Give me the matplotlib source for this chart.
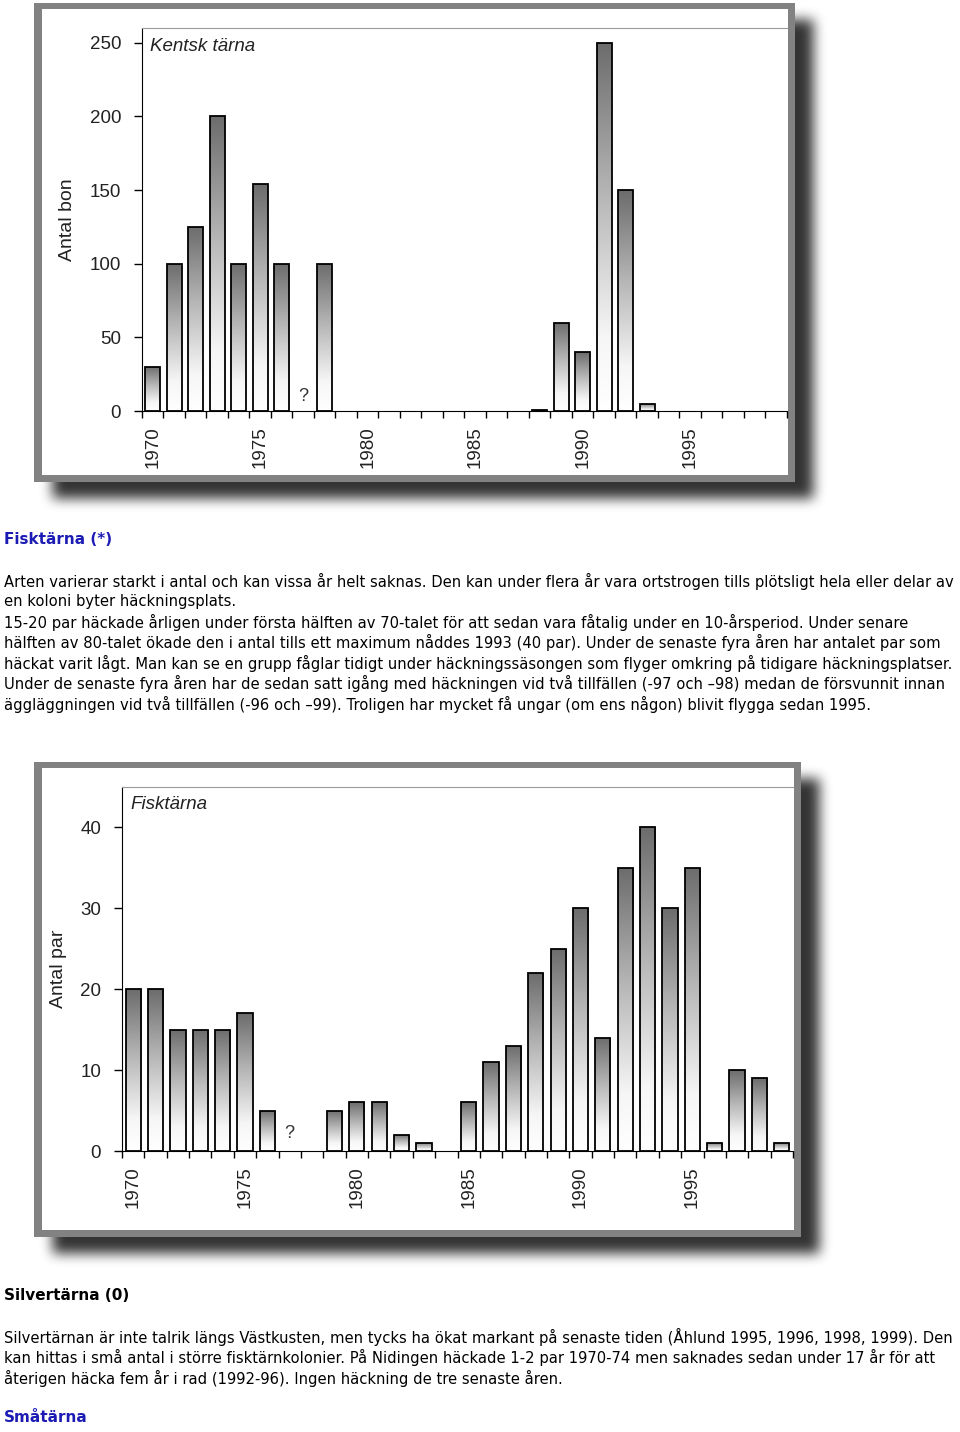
import matplotlib.pyplot as plt
import numpy as np
from matplotlib.colors import LinearSegmentedColormap
from matplotlib.patches import Rectangle
from matplotlib.ticker import FixedLocator

plt.rcParams['font.family'] = ['Liberation Sans', 'DejaVu Sans']

# data
years = list(range(1970, 2000))
kentsk_bon = [30, 100, 125, 200, 100, 154, 100, 0, 100, 0,
              0, 0, 0, 0, 0, 0, 0, 0, 1, 60,
              40, 250, 150, 5, 0, 0, 0, 0, 0, 0]
fisk_par = [20, 20, 15, 15, 15, 17, 5, 0, 0, 5,
            6, 6, 2, 1, 0, 6, 11, 13, 22, 25,
            30, 14, 35, 40, 30, 35, 1, 10, 9, 1]
unknown_year = 1977
year_labels = [1970, 1975, 1980, 1985, 1990, 1995]
kentsk_yticks = [0, 50, 100, 150, 200, 250]
fisk_yticks = [0, 10, 20, 30, 40]

fisk_heading = 'Fisktärna (*)'
fisk_text = [
    'Arten varierar starkt i antal och kan vissa år helt saknas. Den kan under flera år vara ortstrogen tills plötsligt hela eller delar av',
    'en koloni byter häckningsplats.',
    '15-20 par häckade årligen under första hälften av 70-talet för att sedan vara fåtalig under en 10-årsperiod. Under senare',
    'hälften av 80-talet ökade den i antal tills ett maximum nåddes 1993 (40 par). Under de senaste fyra åren har antalet par som',
    'häckat varit lågt. Man kan se en grupp fåglar tidigt under häckningssäsongen som flyger omkring på tidigare häckningsplatser.',
    'Under de senaste fyra åren har de sedan satt igång med häckningen vid två tillfällen (-97 och –98) medan de försvunnit innan',
    'äggläggningen vid två tillfällen (-96 och –99). Troligen har mycket få ungar (om ens någon) blivit flygga sedan 1995.',
]
silver_heading = 'Silvertärna (0)'
silver_text = [
    'Silvertärnan är inte talrik längs Västkusten, men tycks ha ökat markant på senaste tiden (Åhlund 1995, 1996, 1998, 1999). Den',
    'kan hittas i små antal i större fisktärnkolonier. På Nidingen häckade 1-2 par 1970-74 men saknades sedan under 17 år för att',
    'återigen häcka fem år i rad (1992-96). Ingen häckning de tre senaste åren.',
]
sma_heading = 'Småtärna'

W, H = 960, 1432
BLUE = '#1c1cb4'
BODY = ['DejaVu Sans']
bar_cmap = LinearSegmentedColormap.from_list(
    'bar', [(0, '#ffffff'), (0.2, '#f6f6f6'), (0.6, '#b4b4b4'), (1, '#6c6c6c')])


def blur(a, k, passes=3):
    kern = np.ones(k) / k
    for _ in range(passes):
        a = np.apply_along_axis(lambda r: np.convolve(r, kern, 'same'), 0, a)
        a = np.apply_along_axis(lambda r: np.convolve(r, kern, 'same'), 1, a)
    return a


def draw_frame(bg, x0, y0, x1, y1, shadow):
    sx, sy = 17, 15
    shadow[y0 + sy:y1 + sy, x0 + sx:x1 + sx] = 1
    bg.add_patch(Rectangle((x0, y0), x1 - x0, y1 - y0, facecolor='#828282',
                           edgecolor='none', zorder=3))
    bg.add_patch(Rectangle((x0 + 8, y0 + 6), x1 - x0 - 15, y1 - y0 - 13,
                           facecolor='white', edgecolor='none', zorder=4))


def draw_chart(ax, values, ymax, yticks, ylabel, title, qy, label_x):
    x = np.array(years)
    bars = ax.bar(x, values, width=0.68, facecolor='none', edgecolor='black',
                  linewidth=1.3, zorder=3)
    grad = np.linspace(1, 0, 256).reshape(-1, 1)
    for b in bars:
        h = b.get_height()
        if h <= 0:
            b.set_visible(False)
            continue
        x0 = b.get_x()
        im = ax.imshow(grad, extent=(x0, x0 + b.get_width(), 0, h), origin='upper',
                       cmap=bar_cmap, vmin=0, vmax=1, aspect='auto', zorder=2)
        im.set_clip_path(b)
    ax.set_xlim(1969.5, 1999.5)
    ax.set_ylim(0, ymax)
    ax.set_aspect('auto')

    ax.spines['right'].set_visible(False)
    ax.spines['top'].set_color('#9a9a9a')
    ax.spines['left'].set_color('black')
    ax.spines['bottom'].set_color('black')

    ax.xaxis.set_major_locator(FixedLocator(year_labels))
    ax.set_xticklabels([str(y) for y in year_labels], rotation=90)
    ax.xaxis.set_minor_locator(FixedLocator([y - 0.5 for y in years] + [years[-1] + 0.5]))
    ax.tick_params(axis='x', which='major', length=0, pad=11, labelsize=13.5,
                   labelcolor='#222222')
    ax.tick_params(axis='x', which='minor', length=5, width=1, direction='out')
    ax.set_yticks(yticks)
    ax.tick_params(axis='y', length=6, width=1, direction='out', pad=9,
                   labelsize=13.5, labelcolor='#222222')

    ax.set_ylabel(ylabel, fontsize=14, color='#222222')
    ax.yaxis.set_label_coords(label_x, 0.5)
    ax.text(0.012, 0.952, title, transform=ax.transAxes, style='italic',
            fontsize=13.5, color='#222222', va='center', ha='left')
    ax.text(unknown_year, qy, '?', fontsize=13, color='#333333', ha='center', va='center')


fig = plt.figure(figsize=(9.6, 14.32), dpi=100)
bg = fig.add_axes([0, 0, 1, 1])
bg.set_xlim(0, W)
bg.set_ylim(H, 0)
bg.axis('off')

shadow = np.zeros((H, W))
draw_frame(bg, 34, 3, 795, 482, shadow)
draw_frame(bg, 34, 762, 801, 1237, shadow)
shadow = blur(shadow, 12)
rgba = np.zeros((H, W, 4))
rgba[..., 3] = np.clip(shadow, 0, 1) * 0.8
bg.imshow(rgba, extent=(0, W, H, 0), origin='upper', aspect='auto', zorder=1)
bg.set_xlim(0, W)
bg.set_ylim(H, 0)


def px_axes(x0, y0, x1, y1):
    return fig.add_axes([x0 / W, 1 - y1 / H, (x1 - x0) / W, (y1 - y0) / H])


ax1 = px_axes(142, 28, 787, 411)
draw_chart(ax1, kentsk_bon, 260, kentsk_yticks, 'Antal bon', 'Kentsk tärna', 10, -0.103)

ax2 = px_axes(122, 787, 793, 1151)
draw_chart(ax2, fisk_par, 45, fisk_yticks, 'Antal par', 'Fisktärna', 2.2, -0.082)

# page text
bg.text(4, 540, fisk_heading, color=BLUE, fontsize=11, fontweight='bold',
        va='center', family=BODY)
for i, line in enumerate(fisk_text):
    bg.text(4, 581 + i * 20.5, line, fontsize=10.65, color='black', va='center', family=BODY)

bg.text(4, 1296, silver_heading, color='black', fontsize=11, fontweight='bold',
        va='center', family=BODY)
for i, line in enumerate(silver_text):
    bg.text(4, 1337 + i * 20.5, line, fontsize=10.65, color='black', va='center', family=BODY)
bg.text(4, 1418, sma_heading, color=BLUE, fontsize=11, fontweight='bold',
        va='center', family=BODY)

fig.savefig('out.png', dpi=100)
